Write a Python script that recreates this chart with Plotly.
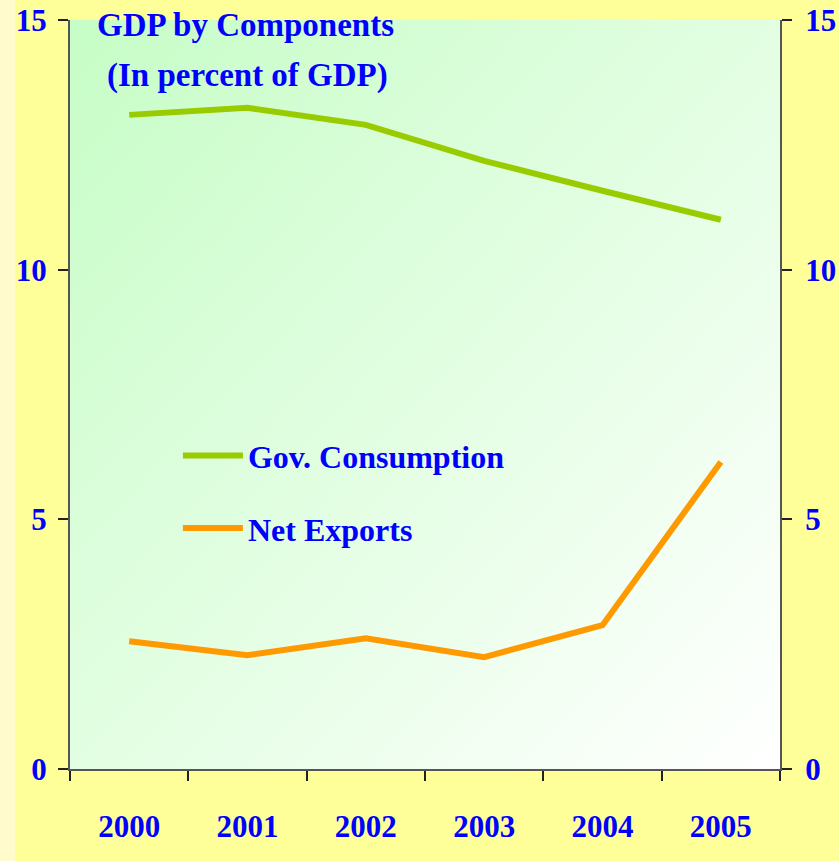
import base64

from plotly import graph_objects as go

# Data
years = ['2000', '2001', '2002', '2003', '2004', '2005']
gov_consumption = [13.1, 13.24, 12.9, 12.18, 11.58, 11.0]
net_exports = [2.56, 2.28, 2.62, 2.24, 2.88, 6.15]
y_ticks = [0, 5, 10, 15]

BLUE = '#0000FF'
FONT = 'Liberation Serif'

# Diagonal green -> white gradient for the plot area (svg as data uri, no network needed)
svg = ('<svg xmlns="http://www.w3.org/2000/svg" width="100" height="100" viewBox="0 0 100 100" '
       'preserveAspectRatio="none"><defs><linearGradient id="g" x1="0" y1="0" x2="1" y2="1">'
       '<stop offset="0" stop-color="#C6FDC6"/><stop offset="1" stop-color="#FFFFFF"/>'
       '</linearGradient></defs><rect width="100" height="100" fill="url(#g)"/></svg>')
svg_uri = 'data:image/svg+xml;base64,' + base64.b64encode(svg.encode()).decode()

fig = go.Figure()
fig.add_trace(go.Scatter(name='Gov. Consumption', x=years, y=gov_consumption, mode='lines',
                         line=dict(color='#99CC00', width=6), legendgroup='a'))
fig.add_trace(go.Scatter(name='Net Exports', x=years, y=net_exports, mode='lines',
                         line=dict(color='#FF9900', width=6), legendgroup='b'))
# invisible companion trace so the right-hand axis gets drawn
fig.add_trace(go.Scatter(x=years, y=net_exports, yaxis='y2', mode='lines', line=dict(width=0),
                         showlegend=False, hoverinfo='skip'))

axis_line = dict(showline=True, linecolor='#555555', linewidth=2, showgrid=False, zeroline=False,
                 ticks='outside', ticklen=10, tickcolor='#222222', tickwidth=1.5, automargin=False)
tick_font = dict(family=FONT, size=31, color=BLUE, weight='bold')

fig.update_layout(
    width=839, height=861,
    margin=dict(l=70, r=59, t=20, b=92, autoexpand=False),
    paper_bgcolor='#FFFF99',
    plot_bgcolor='rgba(0,0,0,0)',
    showlegend=True,
    legend=dict(x=0.152, y=0.455, xanchor='left', yanchor='top', bgcolor='rgba(0,0,0,0)',
                font=dict(family=FONT, size=32, color=BLUE, weight='bold'),
                traceorder='grouped', tracegroupgap=28, itemwidth=60),
    xaxis=dict(type='category', range=[-0.5, 5.5], tickson='boundaries', tickfont=tick_font,
               ticklabelstandoff=29, **axis_line),
    yaxis=dict(range=[0, 15], tickvals=y_ticks, tickfont=tick_font, ticklabelstandoff=5, **axis_line),
    yaxis2=dict(range=[0, 15], tickvals=y_ticks, tickfont=tick_font, overlaying='y', side='right',
                anchor='x', ticklabelstandoff=7, **axis_line),
    images=[dict(source=svg_uri, xref='paper', yref='paper', x=0, y=1, sizex=1, sizey=1,
                 sizing='stretch', xanchor='left', yanchor='top', layer='below')],
    shapes=[dict(type='rect', xref='paper', yref='paper', x0=-70 / 710, x1=-55 / 710, y0=-92 / 749,
                 y1=1 + 20 / 749, fillcolor='#FFFBCC', line=dict(width=0), layer='below')],
    annotations=[
        dict(text='GDP by Components', xref='paper', yref='paper', x=(245 - 70) / 710,
             y=1 - (25 - 20) / 749, xanchor='center', yanchor='middle', showarrow=False,
             font=dict(family=FONT, size=33, color=BLUE, weight='bold')),
        dict(text='(In percent of GDP)', xref='paper', yref='paper', x=(247 - 70) / 710,
             y=1 - (75 - 20) / 749, xanchor='center', yanchor='middle', showarrow=False,
             font=dict(family=FONT, size=33, color=BLUE, weight='bold')),
    ],
)

# drop the browser's default body margin so the figure sits flush in the window
fig.write_html('out.html', config={'displayModeBar': False},
               post_script="document.body.style.margin='0';")
